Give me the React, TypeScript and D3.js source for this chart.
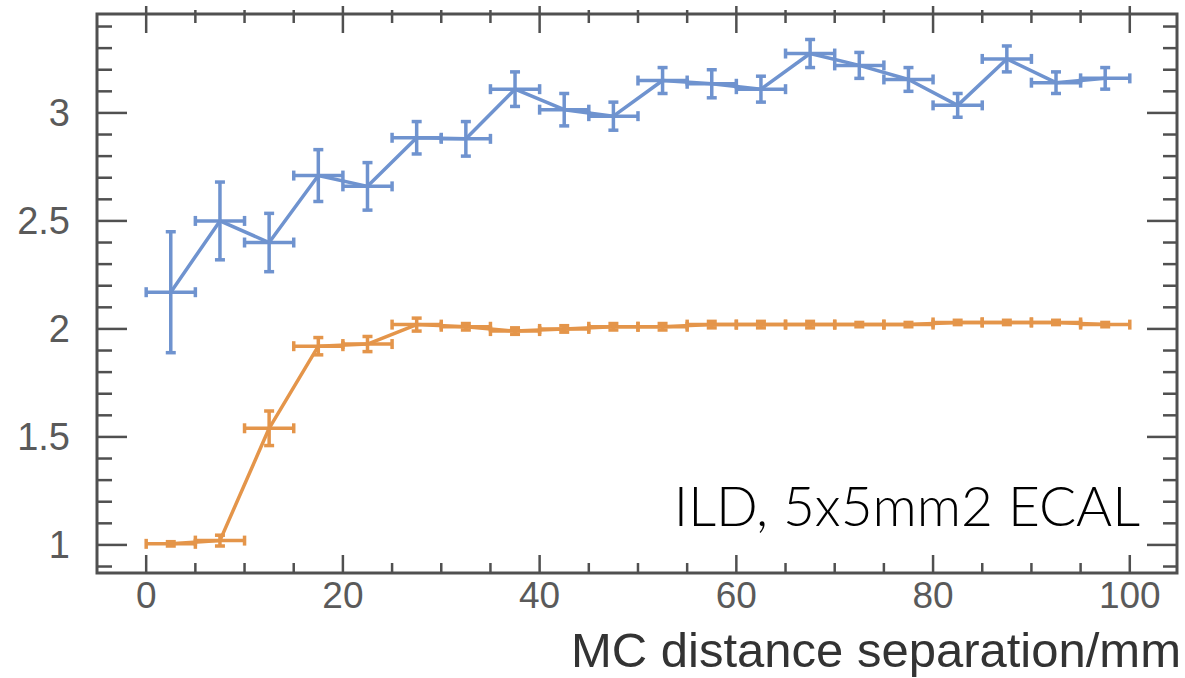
import React, { useRef, useEffect } from 'react';
import * as d3 from 'd3';

// bin centres (mm), each bin is 5 mm wide
const binCenters = [2.5, 7.5, 12.5, 17.5, 22.5, 27.5, 32.5, 37.5, 42.5, 47.5, 52.5, 57.5, 62.5, 67.5, 72.5, 77.5, 82.5, 87.5, 92.5, 97.5];
const binHalfWidth = 2.5;

const blueValues = [2.17, 2.5, 2.4, 2.71, 2.66, 2.885, 2.88, 3.11, 3.015, 2.985, 3.15, 3.135, 3.11, 3.275, 3.22, 3.155, 3.035, 3.25, 3.14, 3.16];
const blueErrors = [0.28, 0.18, 0.135, 0.12, 0.11, 0.075, 0.08, 0.08, 0.075, 0.065, 0.06, 0.065, 0.06, 0.065, 0.06, 0.055, 0.055, 0.06, 0.05, 0.05];

const orangeValues = [1.005, 1.02, 1.54, 1.92, 1.93, 2.02, 2.01, 1.99, 2.0, 2.01, 2.01, 2.02, 2.02, 2.02, 2.02, 2.02, 2.03, 2.03, 2.03, 2.02];
const orangeErrors = [0.01, 0.025, 0.08, 0.04, 0.035, 0.03, 0.015, 0.015, 0.015, 0.015, 0.015, 0.015, 0.015, 0.015, 0.01, 0.01, 0.01, 0.01, 0.01, 0.01];

const xMajorTicks = [0, 20, 40, 60, 80, 100];
const yMajorTicks = [1, 1.5, 2, 2.5, 3];

const BLUE = '#6f93cf';
const ORANGE = '#e4954a';
const FRAME = '#505050';

const App = () => {
  const svgRef = useRef(null);

  useEffect(() => {
    const width = 1185;
    const height = 678;
    const left = 97;
    const right = 1177;
    const top = 14;
    const bottom = 573;

    const svg = d3.select(svgRef.current);
    svg.selectAll('*').remove();
    svg.attr('width', width).attr('height', height);

    const x = d3.scaleLinear().domain([-5, 104.8]).range([left, right]);
    const y = d3.scaleLinear().domain([0.87, 3.458]).range([bottom, top]);

    const xMinor = d3.range(0, 101, 5).filter(v => !xMajorTicks.includes(v));
    const yMinor = d3.range(9, 35).map(v => v / 10).filter(v => !yMajorTicks.some(t => Math.abs(t - v) < 1e-6));

    const ticks = svg.append('g').attr('stroke', FRAME).attr('stroke-width', 2.5);

    // bottom + top ticks
    xMajorTicks.forEach(v => {
      ticks.append('line').attr('x1', x(v)).attr('x2', x(v)).attr('y1', bottom).attr('y2', bottom - 18);
      ticks.append('line').attr('x1', x(v)).attr('x2', x(v)).attr('y1', top - 8).attr('y2', top + 19);
    });
    xMinor.forEach(v => {
      ticks.append('line').attr('x1', x(v)).attr('x2', x(v)).attr('y1', bottom).attr('y2', bottom - 10);
      ticks.append('line').attr('x1', x(v)).attr('x2', x(v)).attr('y1', top - 4).attr('y2', top + 9);
    });
    // left + right ticks
    yMajorTicks.forEach(v => {
      ticks.append('line').attr('x1', left).attr('x2', left + 30).attr('y1', y(v)).attr('y2', y(v));
      ticks.append('line').attr('x1', right).attr('x2', right - 30).attr('y1', y(v)).attr('y2', y(v));
    });
    yMinor.forEach(v => {
      ticks.append('line').attr('x1', left).attr('x2', left + 15).attr('y1', y(v)).attr('y2', y(v));
      ticks.append('line').attr('x1', right).attr('x2', right - 14).attr('y1', y(v)).attr('y2', y(v));
    });

    svg
      .append('rect')
      .attr('x', left)
      .attr('y', top)
      .attr('width', right - left)
      .attr('height', bottom - top)
      .attr('fill', 'none')
      .attr('stroke', FRAME)
      .attr('stroke-width', 3);

    // tick labels
    svg
      .append('g')
      .selectAll('text')
      .data(xMajorTicks)
      .join('text')
      .attr('x', d => x(d))
      .attr('y', 608)
      .attr('text-anchor', 'middle')
      .style('font-family', '"Liberation Sans", Arial, sans-serif')
      .style('font-size', '37px')
      .style('fill', '#5a5a5a')
      .text(d => d);

    svg
      .append('g')
      .selectAll('text')
      .data(yMajorTicks)
      .join('text')
      .attr('x', 70)
      .attr('y', d => y(d) + 13.5)
      .attr('text-anchor', 'end')
      .style('font-family', '"Liberation Sans", Arial, sans-serif')
      .style('font-size', '38px')
      .style('fill', '#5a5a5a')
      .text(d => d);

    const cap = 5;
    const drawSeries = (values, errors, color) => {
      const g = svg.append('g').attr('stroke', color).attr('stroke-width', 3.5).attr('fill', 'none');
      const pts = binCenters.map((c, i) => [c, values[i], errors[i]]);

      const line = d3.line().x(d => x(d[0])).y(d => y(d[1]));
      g.append('path').attr('d', line(pts)).attr('stroke-linejoin', 'round');

      pts.forEach(([c, v, e]) => {
        const x0 = x(c - binHalfWidth);
        const x1 = x(c + binHalfWidth);
        const yc = y(v);
        const ylo = y(v - e);
        const yhi = y(v + e);
        g.append('line').attr('x1', x0).attr('x2', x1).attr('y1', yc).attr('y2', yc);
        g.append('line').attr('x1', x0).attr('x2', x0).attr('y1', yc - cap).attr('y2', yc + cap);
        g.append('line').attr('x1', x1).attr('x2', x1).attr('y1', yc - cap).attr('y2', yc + cap);
        g.append('line').attr('x1', x(c)).attr('x2', x(c)).attr('y1', ylo).attr('y2', yhi);
        g.append('line').attr('x1', x(c) - cap).attr('x2', x(c) + cap).attr('y1', ylo).attr('y2', ylo);
        g.append('line').attr('x1', x(c) - cap).attr('x2', x(c) + cap).attr('y1', yhi).attr('y2', yhi);
      });
    };

    drawSeries(blueValues, blueErrors, BLUE);
    drawSeries(orangeValues, orangeErrors, ORANGE);

    svg
      .append('text')
      .attr('x', 1140)
      .attr('y', 526)
      .attr('text-anchor', 'end')
      .style('font-family', 'Lato, "Liberation Sans", sans-serif')
      .style('font-weight', 300)
      .style('font-size', '55px')
      .style('fill', '#000')
      .text('ILD, 5x5mm2 ECAL');

    svg
      .append('text')
      .attr('x', 1181)
      .attr('y', 667)
      .attr('text-anchor', 'end')
      .style('font-family', '"Liberation Sans", Arial, sans-serif')
      .style('font-size', '49px')
      .style('fill', '#333')
      .text('MC distance separation/mm');
  }, []);

  return <svg ref={svgRef} style={{ position: 'absolute', left: 0, top: 0, display: 'block' }}></svg>;
};

export default App;
